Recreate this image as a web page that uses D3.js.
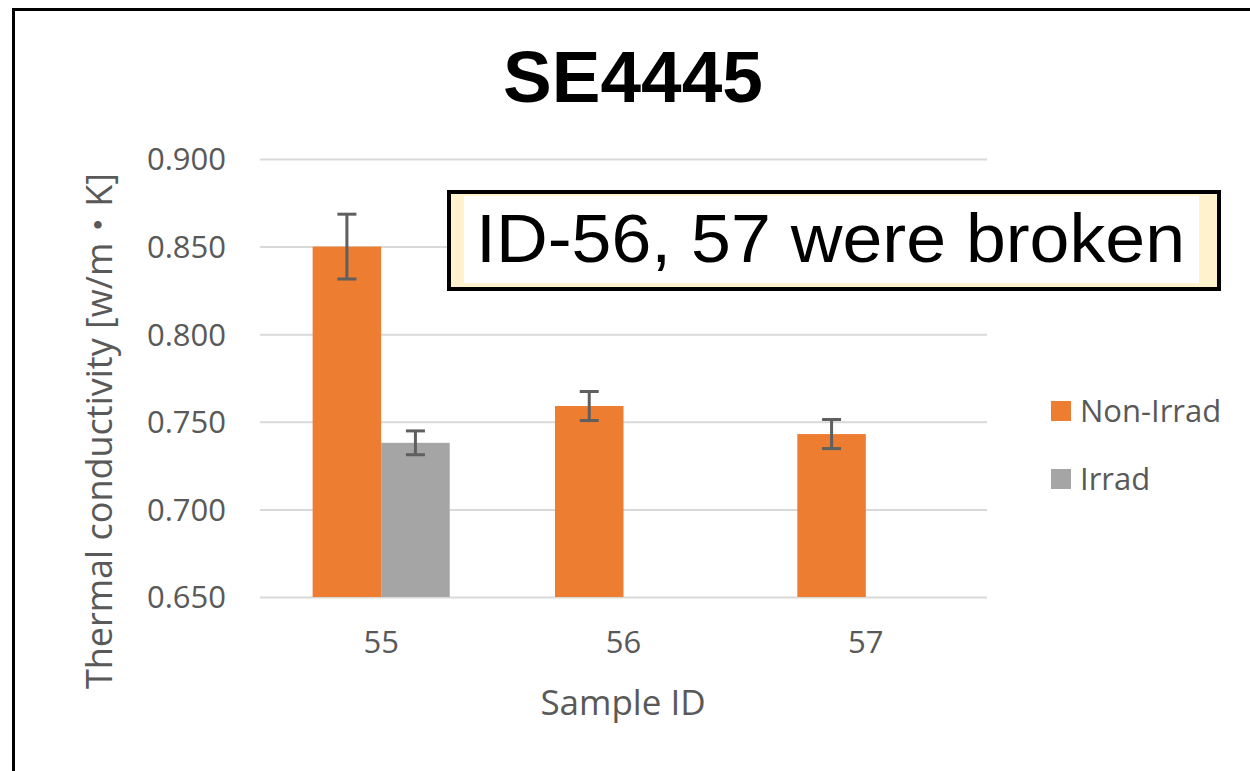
<!DOCTYPE html>
<html>
<head>
<meta charset="utf-8">
<script src="https://cdn.jsdelivr.net/npm/d3@7"></script>
<style>
  html, body { margin: 0; padding: 0; background: #fff; }
  svg { display: block; }
</style>
</head>
<body>
<svg id="chart" width="1250" height="771"></svg>
<script>
// ---- Data ----
const categories = ["55", "56", "57"];
const seriesNames = ["Non-Irrad", "Irrad"];
const nonIrrad = [0.850, 0.759, 0.743];
const nonIrradErr = [0.0185, 0.0083, 0.0083];
const irrad = [0.738, null, null];
const irradErr = [0.0068, null, null];
const yTicks = [0.650, 0.700, 0.750, 0.800, 0.850, 0.900];
const titleText = "SE4445";
const yTitle = "Thermal conductivity [w/m\u30FBK]";
const xTitle = "Sample ID";
const noteText = "ID-56, 57 were broken";

const colors = { "Non-Irrad": "#ed7d31", "Irrad": "#a5a5a5" };
const textGrey = "#595959";

const svg = d3.select("#chart");

// outer chart border
svg.append("rect")
  .attr("x", 13.5).attr("y", 9.5)
  .attr("width", 1300).attr("height", 800)
  .attr("fill", "#fff").attr("stroke", "#000").attr("stroke-width", 3);

// Scales
const x0 = d3.scaleBand().domain(categories).range([260, 987]).padding(0);
const x1 = d3.scaleBand().domain(seriesNames).range([0, x0.bandwidth()])
  .paddingInner(0).paddingOuter(0.768);
const y = d3.scaleLinear().domain([0.65, 0.9]).range([597, 159]);

// Gridlines via axis
const yAxis = d3.axisLeft(y).tickValues(yTicks)
  .tickSize(-(987 - 260)).tickFormat(d3.format(".3f")).tickPadding(34);
const gy = svg.append("g").attr("transform", "translate(260,0)").call(yAxis);
gy.select(".domain").remove();
gy.selectAll(".tick line").attr("stroke", "#d9d9d9").attr("stroke-width", 2);
gy.selectAll(".tick text")
  .attr("fill", textGrey)
  .style("font-family", "'Open Sans', sans-serif")
  .style("font-size", "31px")
  .attr("dy", "0.35em");

// X axis labels
const xAxis = d3.axisBottom(x0).tickSize(0).tickPadding(34);
const gx = svg.append("g").attr("transform", "translate(0,597)").call(xAxis);
gx.select(".domain").remove();
gx.selectAll(".tick text")
  .attr("fill", textGrey)
  .style("font-family", "'Open Sans', sans-serif")
  .style("font-size", "31px");

// Bars
const rows = categories.map((c, i) => ({
  cat: c,
  vals: [
    { s: "Non-Irrad", v: nonIrrad[i], e: nonIrradErr[i] },
    { s: "Irrad", v: irrad[i], e: irradErr[i] }
  ].filter(d => d.v != null)
}));

const groups = svg.append("g").selectAll("g").data(rows).join("g")
  .attr("transform", d => `translate(${x0(d.cat)},0)`);

groups.selectAll("rect").data(d => d.vals).join("rect")
  .attr("x", d => x1(d.s))
  .attr("width", x1.bandwidth())
  .attr("y", d => y(d.v))
  .attr("height", d => y(0.65) - y(d.v))
  .attr("fill", d => colors[d.s]);

// Error bars
const eb = groups.selectAll("g.err").data(d => d.vals).join("g").attr("class", "err");
const capW = 19;
eb.append("line")
  .attr("x1", d => x1(d.s) + x1.bandwidth() / 2)
  .attr("x2", d => x1(d.s) + x1.bandwidth() / 2)
  .attr("y1", d => y(d.v + d.e)).attr("y2", d => y(d.v - d.e))
  .attr("stroke", "#5f5f5f").attr("stroke-width", 3);
eb.append("line")
  .attr("x1", d => x1(d.s) + x1.bandwidth() / 2 - capW / 2)
  .attr("x2", d => x1(d.s) + x1.bandwidth() / 2 + capW / 2)
  .attr("y1", d => y(d.v + d.e)).attr("y2", d => y(d.v + d.e))
  .attr("stroke", "#5f5f5f").attr("stroke-width", 3);
eb.append("line")
  .attr("x1", d => x1(d.s) + x1.bandwidth() / 2 - capW / 2)
  .attr("x2", d => x1(d.s) + x1.bandwidth() / 2 + capW / 2)
  .attr("y1", d => y(d.v - d.e)).attr("y2", d => y(d.v - d.e))
  .attr("stroke", "#5f5f5f").attr("stroke-width", 3);

// Title
svg.append("text")
  .attr("x", 633).attr("y", 102)
  .attr("text-anchor", "middle")
  .style("font-family", "'Liberation Sans', Arial, sans-serif")
  .style("font-weight", "bold")
  .style("font-size", "73px")
  .attr("fill", "#000")
  .text(titleText);

// Axis titles
svg.append("text")
  .attr("transform", "translate(112,431) rotate(-90)")
  .attr("text-anchor", "middle")
  .style("font-family", "'Open Sans', 'Noto Sans CJK JP', sans-serif")
  .style("font-size", "36px")
  .attr("fill", textGrey)
  .text(yTitle);

svg.append("text")
  .attr("x", 623).attr("y", 715)
  .attr("text-anchor", "middle")
  .style("font-family", "'Open Sans', sans-serif")
  .style("font-size", "35px")
  .attr("fill", textGrey)
  .text(xTitle);

// Legend
const legend = svg.append("g");
const legY = [411, 479];
seriesNames.forEach((s, i) => {
  legend.append("rect")
    .attr("x", 1051).attr("y", legY[i] - 10)
    .attr("width", 20).attr("height", 20)
    .attr("fill", colors[s]);
  legend.append("text")
    .attr("x", 1080).attr("y", legY[i])
    .attr("dy", "0.35em")
    .style("font-family", "'Open Sans', sans-serif")
    .style("font-size", "31px")
    .attr("fill", textGrey)
    .text(s);
});

// Annotation box
const note = svg.append("g");
note.append("rect")
  .attr("x", 449).attr("y", 192).attr("width", 770).attr("height", 97)
  .attr("fill", "#fff2cc").attr("stroke", "#000").attr("stroke-width", 4);
note.append("rect")
  .attr("x", 464).attr("y", 196).attr("width", 735).attr("height", 87)
  .attr("fill", "#fff");
note.append("text")
  .attr("x", 476).attr("y", 262)
  .attr("textLength", 709).attr("lengthAdjust", "spacingAndGlyphs")
  .style("font-family", "'Liberation Sans', Arial, sans-serif")
  .style("font-size", "68px")
  .attr("fill", "#000")
  .text(noteText);
</script>
</body>
</html>
